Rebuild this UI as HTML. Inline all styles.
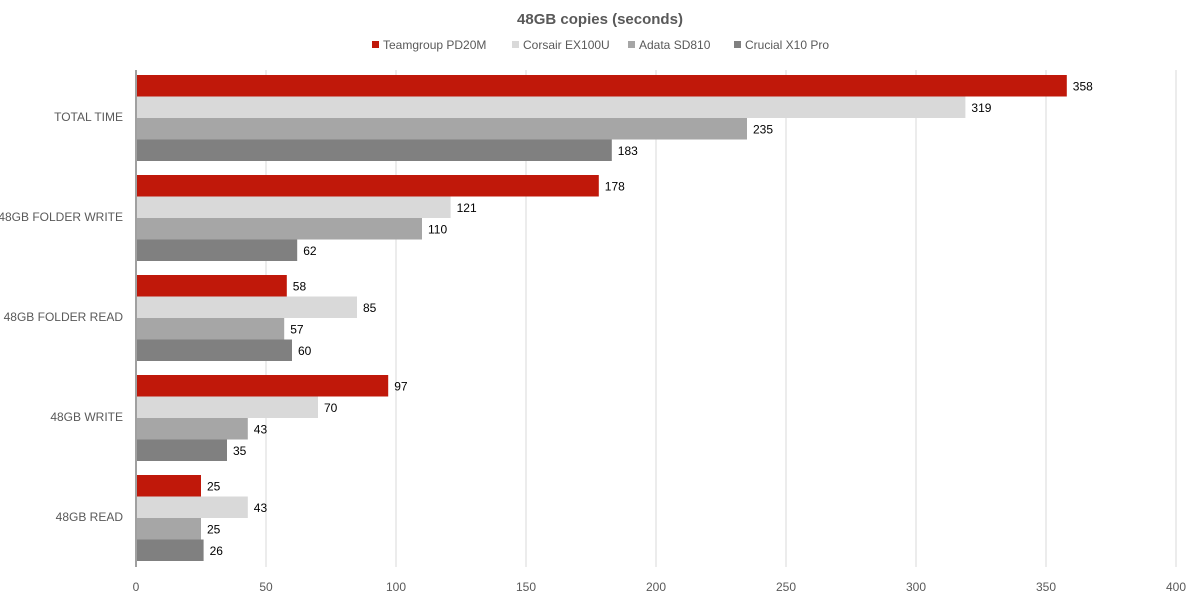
<!DOCTYPE html>
<html><head><meta charset="utf-8"><style>
body{margin:0;background:#fff;font-family:"Liberation Sans",sans-serif}
svg text{font-family:"Liberation Sans",sans-serif}
</style></head><body>
<svg id="chart" width="1200" height="599" xmlns="http://www.w3.org/2000/svg">
<text x="600" y="24" text-anchor="middle" font-size="15" font-weight="bold" fill="#595959">48GB copies (seconds)</text>
<g id="legend"></g>
<g id="grid"></g>
<g id="bars"></g>
<g id="labels"></g>
</svg>
<script>
const categories=["TOTAL TIME","48GB FOLDER WRITE","48GB FOLDER READ","48GB WRITE","48GB READ"];
const seriesNames=["Teamgroup PD20M","Corsair EX100U","Adata SD810","Crucial X10 Pro"];
const teamgroup=[358,178,58,97,25];
const corsair=[319,121,85,70,43];
const adata=[235,110,57,43,25];
const crucial=[183,62,60,35,26];
const xTicks=[0,50,100,150,200,250,300,350,400];
const series=[teamgroup,corsair,adata,crucial];
const colors=["#c0180a","#d9d9d9","#a6a6a6","#808080"];
const NS="http://www.w3.org/2000/svg";
const x0=136,x1=1176,yTop=67,yBot=567,xMax=400;
const xs=v=>x0+v/xMax*(x1-x0);
const band=(yBot-yTop)/categories.length;
function mk(t,a,p){const e=document.createElementNS(NS,t);for(const k in a)e.setAttribute(k,a[k]);p.appendChild(e);return e;}
const grid=document.getElementById('grid'),bars=document.getElementById('bars'),labels=document.getElementById('labels'),legend=document.getElementById('legend');
xTicks.forEach(t=>{
 if(t>0){const l=mk('line',{x1:xs(t),x2:xs(t),y1:yTop+3,y2:yBot,stroke:'#d9d9d9','stroke-width':1},grid);
 
 }
 const tx=mk('text',{x:xs(t),y:591,'text-anchor':'middle','font-size':12,fill:'#595959'},labels);tx.textContent=t;
 
 
});
const ax=mk('line',{x1:x0,x2:x0,y1:yTop+3,y2:yBot,stroke:'#404040','stroke-width':1},grid);


const bh=21.5;
categories.forEach((c,i)=>{
 const by=yTop+i*band;
 const cl=mk('text',{x:123,y:by+band/2+4,'text-anchor':'end','font-size':12,fill:'#595959'},labels);cl.textContent=c;
 
 
 series.forEach((s,j)=>{
  const y=by+8+j*bh;
  const r=mk('rect',{x:x0+1,y:y,width:xs(s[i])-x0-1,height:bh,fill:colors[j]},bars);
  
  
  const v=mk('text',{x:xs(s[i])+6,y:y+bh/2+4.5,'font-size':12,fill:'#000'},labels);v.textContent=s[i];
  
  
 });
});
const lx=[372,512,628,734];
seriesNames.forEach((n,j)=>{
 const g=mk('g',{},legend);
 
 
 mk('rect',{x:lx[j],y:41,width:7,height:7,fill:colors[j]},g);
 const t=mk('text',{x:lx[j]+11,y:49,'font-size':12,fill:'#595959'},g);t.textContent=n;
});
</script>
</body></html>
